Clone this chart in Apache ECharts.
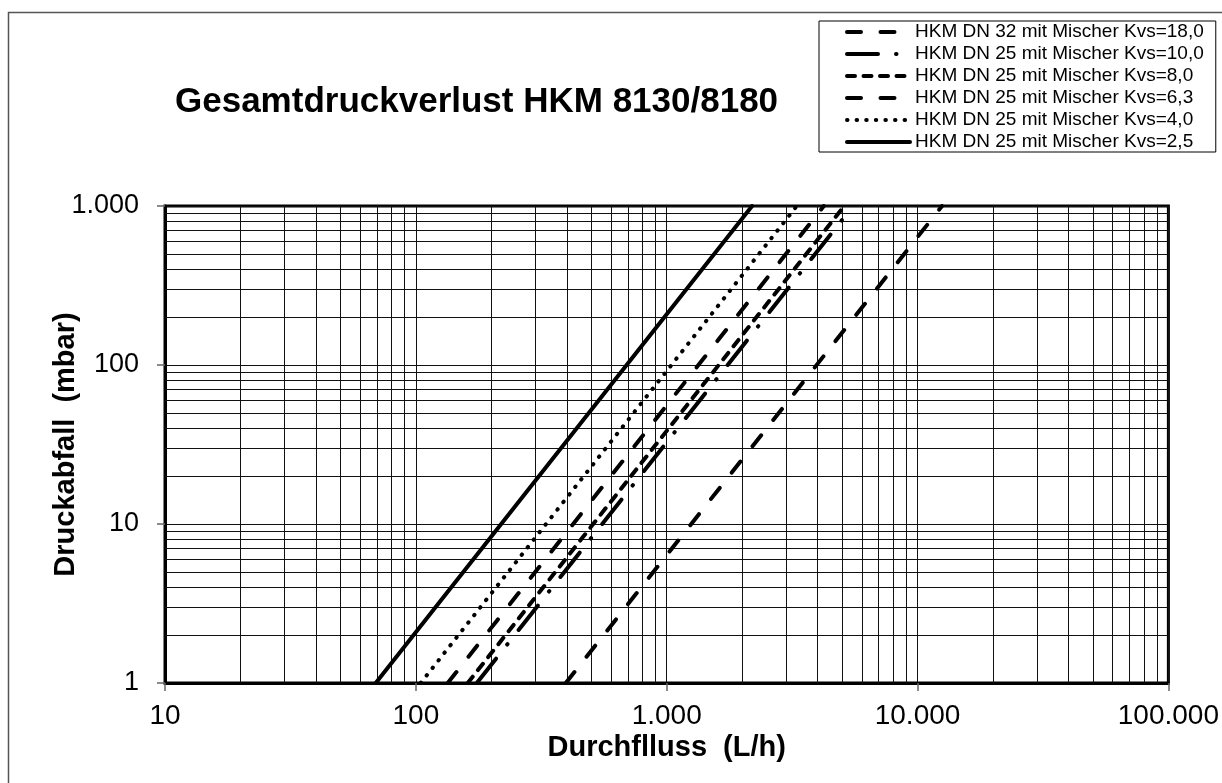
<!DOCTYPE html>
<html><head><meta charset="utf-8">
<script src="https://cdn.jsdelivr.net/npm/echarts@6/dist/echarts.min.js"></script>
<style>html,body{margin:0;padding:0;background:#fff}#c{width:1222px;height:783px}</style>
</head><body><div id="c"></div>
<script>
// Flow (L/h) at both ends of each line: [flow, pressure drop mbar]
const names = [
  'HKM DN 32 mit Mischer Kvs=18,0',
  'HKM DN 25 mit Mischer Kvs=10,0',
  'HKM DN 25 mit Mischer Kvs=8,0',
  'HKM DN 25 mit Mischer Kvs=6,3',
  'HKM DN 25 mit Mischer Kvs=4,0',
  'HKM DN 25 mit Mischer Kvs=2,5'
];
const kvs18 = [[396, 1], [12520, 1000]];
const kvs10 = [[175, 1], [5530, 1000]];
const kvs8  = [[161, 1], [5100, 1000]];
const kvs63 = [[134, 1], [4230, 1000]];
const kvs4  = [[104.5, 1], [3300, 1000]];
const kvs25 = [[69.2, 1], [2190, 1000]];

// Minor grid lines (2..9 in each decade)
const xMinorGrid = [20,30,40,50,60,70,80,90, 200,300,400,500,600,700,800,900,
  2000,3000,4000,5000,6000,7000,8000,9000, 20000,30000,40000,50000,60000,70000,80000,90000];
const yMinorGrid = [2,3,4,5,6,7,8,9, 20,30,40,50,60,70,80,90, 200,300,400,500,600,700,800,900];

const FONT = 'Liberation Sans';
const fmt = v => String(Math.round(v)).replace(/\B(?=(\d{3})+(?!\d))/g, '.');

const LW = 4;
const styles = [
  {type: [14, 19.5]},
  {type: [31, 18, 0.5, 18]},
  {type: [8, 8.5]},
  {type: [14, 19.5]},
  {type: [0.5, 9.1]},
  {type: 'solid'}
];
const datasets = [kvs18, kvs10, kvs8, kvs63, kvs4, kvs25];

const series = datasets.map((d, i) => ({
  name: names[i], type: 'line', data: d, symbol: 'none', silent: true, z: 5,
  color: '#000',
  itemStyle: {color: '#000'},
  lineStyle: {color: '#000', width: LW, type: styles[i].type, cap: 'round'},
  animation: false
}));

series.push({
  name: 'grid', type: 'line', data: [], symbol: 'none', silent: true, z: 1,
  animation: false,
  markLine: {
    silent: true, symbol: 'none', animation: false,
    label: {show: false},
    lineStyle: {color: '#111', width: 1, type: 'solid'},
    emphasis: {disabled: true},
    data: xMinorGrid.map(v => ({xAxis: v})).concat(yMinorGrid.map(v => ({yAxis: v})))
  }
});

const chart = echarts.init(document.getElementById('c'), null, {renderer: 'canvas'});
chart.setOption({
  backgroundColor: '#fff',
  animation: false,
  title: {
    text: 'Gesamtdruckverlust HKM 8130/8180',
    left: 170, top: 80,
    textStyle: {fontFamily: FONT, fontSize: 35, fontWeight: 'bold', color: '#000'}
  },
  legend: {
    orient: 'vertical', left: 819, top: 21,
    padding: [1, 12, 0, 26], itemGap: 2, itemWidth: 63, itemHeight: 14,
    borderColor: '#000', borderWidth: 1, backgroundColor: '#fff',
    lineStyle: {width: LW},
    itemStyle: {opacity: 0, borderWidth: 0},
    textStyle: {fontFamily: FONT, fontSize: 19, color: '#000', lineHeight: 20},
    data: names, selectedMode: false
  },
  grid: {left: 165, right: 52, top: 206, bottom: 100, show: true, borderColor: '#000', borderWidth: 3},
  xAxis: {
    type: 'log', logBase: 10, min: 10, max: 100000,
    name: 'Durchflluss  (L/h)', nameLocation: 'middle', nameGap: 50, nameMoveOverlap: false,
    nameTextStyle: {fontFamily: FONT, fontSize: 29, fontWeight: 'bold', color: '#000'},
    axisLine: {show: true, lineStyle: {color: '#000', width: 3}},
    axisTick: {show: true, length: 8, lineStyle: {color: '#666', width: 1.5}},
    axisLabel: {fontFamily: FONT, fontSize: 28, color: '#000', margin: 19, formatter: fmt},
    splitLine: {show: true, lineStyle: {color: '#111', width: 1}}
  },
  yAxis: {
    type: 'log', logBase: 10, min: 1, max: 1000,
    name: 'Druckabfall  (mbar)', nameLocation: 'middle', nameGap: 85, nameRotate: 90, nameMoveOverlap: false,
    nameTextStyle: {fontFamily: FONT, fontSize: 29, fontWeight: 'bold', color: '#000'},
    axisLine: {show: true, lineStyle: {color: '#000', width: 3}},
    axisTick: {show: true, length: 8, lineStyle: {color: '#666', width: 1.5}},
    axisLabel: {fontFamily: FONT, fontSize: 27, color: '#000', margin: 26, formatter: fmt},
    splitLine: {show: true, lineStyle: {color: '#111', width: 1}}
  },
  graphic: [{
    type: 'rect', silent: true, z: -10,
    shape: {x: 8.5, y: 12.5, width: 1400, height: 1000},
    style: {fill: 'none', stroke: '#555', lineWidth: 1.5}
  }],
  series: series
});
</script></body></html>
